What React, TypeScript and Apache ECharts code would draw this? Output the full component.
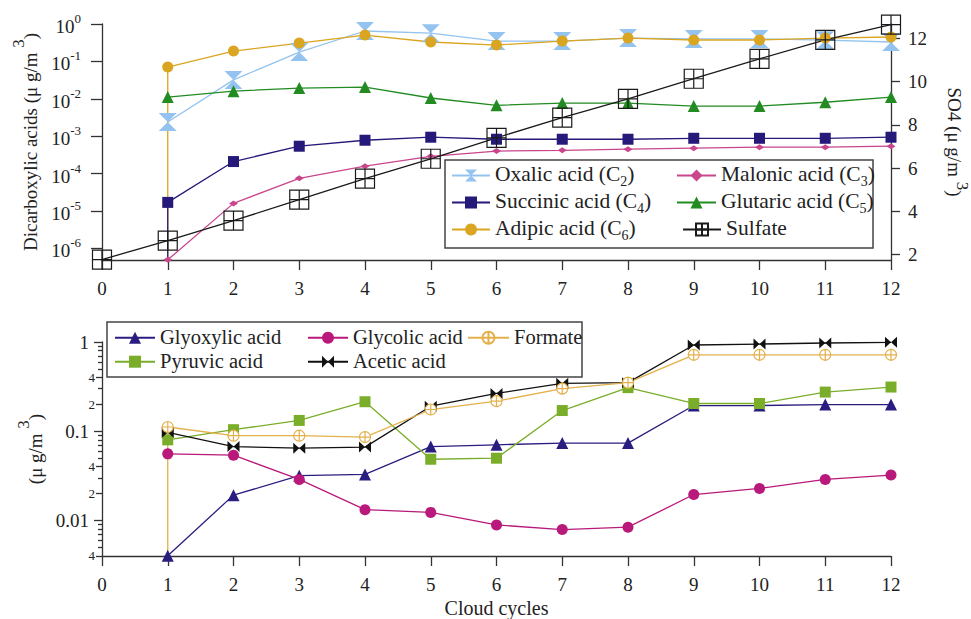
import { useEffect, useRef } from 'react';
import * as echarts from 'echarts';

// ---------- data ----------
const cycles = [0, 1, 2, 3, 4, 5, 6, 7, 8, 9, 10, 11, 12];

// upper panel: dicarboxylic acids (µg/m3), log axis
const oxalic = [null, 2.4e-3, 0.032, 0.178, 0.65, 0.57, 0.35, 0.35, 0.42, 0.4, 0.4, 0.37, 0.33];
const malonic = [null, 4.95e-7, 1.6e-5, 7.5e-5, 1.58e-4, 2.9e-4, 4.0e-4, 4.2e-4, 4.5e-4, 4.8e-4, 5.1e-4, 5.1e-4, 5.4e-4];
const succinic = [null, 1.7e-5, 2.1e-4, 5.4e-4, 7.8e-4, 9.4e-4, 8.3e-4, 8.3e-4, 8.3e-4, 8.8e-4, 8.8e-4, 8.8e-4, 9.4e-4];
const glutaric = [null, 0.0111, 0.016, 0.0193, 0.0206, 0.0105, 0.0067, 0.0077, 0.0077, 0.0064, 0.0064, 0.0081, 0.0111];
const adipic = [null, 0.0705, 0.189, 0.31, 0.507, 0.33, 0.274, 0.35, 0.42, 0.373, 0.373, 0.42, 0.449];
// sulfate (µg/m3), right linear axis
const sulfate = [1.77, 2.65, 3.57, 4.54, 5.51, 6.43, 7.4, 8.33, 9.2, 10.13, 11.05, 11.93, 12.63];

// lower panel (µg/m3), log axis
const glyoxylic = [null, 0.00401, 0.0192, 0.0317, 0.0328, 0.0673, 0.0704, 0.0736, 0.0736, 0.194, 0.194, 0.199, 0.199];
const glycolic = [null, 0.0557, 0.0538, 0.0288, 0.0132, 0.0123, 0.0089, 0.0079, 0.0084, 0.0195, 0.0228, 0.0288, 0.0322];
const formate = [null, 0.1115, 0.089, 0.089, 0.086, 0.175, 0.217, 0.3, 0.35, 0.719, 0.719, 0.719, 0.719];
const pyruvic = [null, 0.08, 0.104, 0.132, 0.214, 0.0485, 0.0498, 0.1705, 0.308, 0.2045, 0.2045, 0.2745, 0.3126];
const acetic = [null, 0.0969, 0.0673, 0.0646, 0.0663, 0.1906, 0.2653, 0.344, 0.35, 0.925, 0.949, 0.974, 0.992];

// tick values
const dicarbTicks = [1e-6, 1e-5, 1e-4, 1e-3, 1e-2, 1e-1, 1];
const so4Ticks = [2, 4, 6, 8, 10, 12];
const lowerMajorTicks = [0.01, 0.1, 1];
const lowerLabeledMinorTicks = [0.004, 0.02, 0.04, 0.2, 0.4];
const lowerMinorTicks = [0.005, 0.006, 0.007, 0.008, 0.009, 0.03, 0.05, 0.06, 0.07, 0.08, 0.09, 0.3, 0.5, 0.6, 0.7, 0.8, 0.9];

// value used to draw the drop of a curve to the bottom of a log axis at its first cycle
const OFF_SCALE = 1e-12;

// ---------- styling ----------
const FONT = 'Liberation Serif';
const INK = '#222';
const AXIS = '#333';

const HOURGLASS = 'path://M0,0L12,0L6,7ZM0,14L12,14L6,7Z';
const BOX_PLUS = 'path://M0,0H10V10H0ZM5,0V10M0,5H10';
const BOWTIE = 'path://M0,0L6,5L0,10ZM12,0L6,5L12,10Z';
const CIRCLE_PLUS = 'path://M5,0A5,5,0,1,1,5,10A5,5,0,1,1,5,0ZM5,0V10M0,5H10';

function points(values: (number | null)[], dropFirst = false) {
  const pts: any[] = [];
  values.forEach((v, i) => {
    if (v == null) return;
    if (dropFirst && pts.length === 0) pts.push({ value: [cycles[i], OFF_SCALE], symbol: 'none' });
    pts.push([cycles[i], v]);
  });
  return pts;
}

const lineStyle = { color: AXIS, width: 1.3 };

function xAxis(grid: number, extra: any = {}) {
  return {
    type: 'value',
    gridIndex: grid,
    min: 0,
    max: 12,
    interval: 1,
    axisLine: { onZero: false, lineStyle },
    axisTick: { length: 10, lineStyle },
    axisLabel: { fontFamily: FONT, fontSize: 19, color: INK, margin: 19 },
    splitLine: { show: false },
    ...extra,
  };
}

function nameRich(lh: number) {
  return {
    b: { fontFamily: FONT, fontSize: 19, color: INK, lineHeight: lh, verticalAlign: 'bottom' },
    p: { fontFamily: FONT, fontSize: 17, color: INK, lineHeight: lh, verticalAlign: 'top' },
  };
}

function legendRich(size: number, lh: number) {
  return {
    t: { fontFamily: FONT, fontSize: size, color: INK, lineHeight: lh, verticalAlign: 'top' },
    s: { fontFamily: FONT, fontSize: 14, color: INK, lineHeight: lh, verticalAlign: 'bottom' },
  };
}

const fmtSub = (name: string) => {
  const m = name.match(/^(.*\(C)(\d)(\))$/);
  return m ? `{t|${m[1]}}{s|${m[2]}}{t|${m[3]}}` : `{t|${name}}`;
};

function series(name: string, data: any[], color: string, symbol: string, symbolSize: any, xi: number, yi: number, item: any = {}) {
  return {
    type: 'line',
    name,
    data,
    xAxisIndex: xi,
    yAxisIndex: yi,
    symbol,
    symbolSize,
    symbolKeepAspect: false,
    clip: true,
    lineStyle: { color, width: 1.3 },
    itemStyle: { color, ...item },
    emphasis: { disabled: true },
  };
}

function legend(data: string[], left: number, top: number, itemWidth: number, itemGap: number, size: number, lh: number) {
  return {
    data,
    orient: 'vertical',
    left,
    top,
    itemWidth,
    itemHeight: 15,
    itemGap,
    padding: 0,
    selectedMode: false,
    formatter: fmtSub,
    textStyle: { fontFamily: FONT, fontSize: size, color: INK, rich: legendRich(size, lh) },
  };
}

export default function App() {
  const ref = useRef<HTMLDivElement>(null);

  useEffect(() => {
    if (!ref.current) return;
    const chart = echarts.init(ref.current, undefined, { renderer: 'svg' });

    const option: any = {
      animation: false,
      backgroundColor: '#fff',
      textStyle: { fontFamily: FONT },
      grid: [
        { left: 102, right: 80, top: 24, height: 236, outerBoundsMode: 'none', containLabel: false },
        { left: 102, right: 80, top: 342, height: 214, outerBoundsMode: 'none', containLabel: false },
      ],
      xAxis: [
        xAxis(0),
        xAxis(1, {
          name: 'Cloud cycles',
          nameLocation: 'middle',
          nameGap: 42,
          nameTextStyle: { fontFamily: FONT, fontSize: 20, color: INK },
        }),
      ],
      yAxis: [
        {
          type: 'log',
          logBase: 10,
          gridIndex: 0,
          position: 'left',
          min: 4.9e-7,
          max: 1,
          axisLine: { show: true, onZero: false, lineStyle },
          axisTick: { show: true, length: 11, customValues: dicarbTicks, lineStyle },
          axisLabel: {
            customValues: dicarbTicks,
            margin: 21,
            fontFamily: FONT,
            formatter: (v: number) => `{b|10}{e|${Math.round(Math.log10(v))}}`,
            rich: {
              b: { fontFamily: FONT, fontSize: 19, color: INK, lineHeight: 24, verticalAlign: 'bottom' },
              e: { fontFamily: FONT, fontSize: 13, color: INK, lineHeight: 24, verticalAlign: 'top' },
            },
          },
          splitLine: { show: false },
          name: '{b|Dicarboxylic acids (μ g/m }{p|3}{b|)}',
          nameLocation: 'middle',
          nameGap: 47,
          nameTextStyle: { fontFamily: FONT, rich: nameRich(30) },
        },
        {
          type: 'value',
          gridIndex: 0,
          position: 'right',
          min: 1.75,
          max: 12.66,
          axisLine: { show: true, onZero: false, lineStyle },
          axisTick: { show: true, length: 9, customValues: so4Ticks, lineStyle },
          axisLabel: { customValues: so4Ticks, margin: 17, fontFamily: FONT, fontSize: 19, color: INK },
          splitLine: { show: false },
          name: '{b|SO4 (μ g/m }{p|3}{b|)}',
          nameLocation: 'middle',
          nameRotate: -90,
          nameGap: 54,
          nameTextStyle: { fontFamily: FONT, rich: nameRich(26) },
        },
        {
          type: 'log',
          logBase: 10,
          gridIndex: 1,
          position: 'left',
          min: 0.00399,
          max: 1,
          axisLine: { show: true, onZero: false, lineStyle },
          axisTick: { show: true, length: 8, customValues: lowerMajorTicks, lineStyle },
          axisLabel: {
            customValues: lowerMajorTicks,
            margin: 13,
            fontFamily: FONT,
            fontSize: 19,
            color: INK,
            formatter: (v: number) => String(v),
          },
          splitLine: { show: false },
          name: '{b|(μ g/m }{p|3}{b|)}',
          nameLocation: 'middle',
          nameGap: 56,
          nameTextStyle: { fontFamily: FONT, rich: nameRich(30) },
        },
        {
          type: 'log',
          logBase: 10,
          gridIndex: 1,
          position: 'left',
          min: 0.00399,
          max: 1,
          axisLine: { show: false },
          axisTick: { show: true, length: 6, customValues: lowerLabeledMinorTicks, lineStyle },
          axisLabel: {
            customValues: lowerLabeledMinorTicks,
            margin: 7,
            fontFamily: FONT,
            fontSize: 13,
            color: INK,
            formatter: (v: number) => String(Math.round(v / Math.pow(10, Math.floor(Math.log10(v) + 1e-9)))),
          },
          splitLine: { show: false },
        },
        {
          type: 'log',
          logBase: 10,
          gridIndex: 1,
          position: 'left',
          min: 0.00399,
          max: 1,
          axisLine: { show: false },
          axisTick: { show: true, length: 4, customValues: lowerMinorTicks, lineStyle },
          axisLabel: { show: false },
          splitLine: { show: false },
        },
      ],
      legend: [
        legend(['Oxalic acid (C2)', 'Succinic acid (C4)', 'Adipic acid (C6)'], 451, 162.5, 38, 1, 21.5, 26),
        legend(['Malonic acid (C3)', 'Glutaric acid (C5)'], 676, 162.5, 39, 1, 21.5, 26),
        legend(['Sulfate'], 682, 216.5, 38, 1, 21.5, 26),
        legend(['Glyoxylic acid', 'Pyruvic acid'], 114, 326.7, 40, 3, 20.5, 22),
        legend(['Glycolic acid', 'Acetic acid'], 307, 326.7, 40, 3, 20.5, 22),
        legend(['Formate'], 467, 326.7, 41, 3, 20.5, 22),
      ],
      graphic: [
        {
          type: 'rect',
          z: 3,
          shape: { x: 445, y: 160, width: 428, height: 88 },
          style: { fill: '#fff', stroke: '#444', lineWidth: 1.5 },
        },
        {
          type: 'rect',
          z: 3,
          shape: { x: 107, y: 322, width: 475, height: 55 },
          style: { fill: '#fff', stroke: '#444', lineWidth: 1.5 },
        },
      ],
      series: [
        series('Oxalic acid (C2)', points(oxalic), '#93c3ee', HOURGLASS, [18, 18], 0, 0),
        series('Malonic acid (C3)', points(malonic), '#c9468d', 'diamond', [9, 6], 0, 0),
        series('Adipic acid (C6)', points(adipic, true), '#daa520', 'circle', 11, 0, 0),
        series('Succinic acid (C4)', points(succinic, true), '#25197a', 'rect', 11, 0, 0),
        series('Glutaric acid (C5)', points(glutaric), '#228b22', 'triangle', 12, 0, 0),
        series('Sulfate', points(sulfate), '#1a1a1a', BOX_PLUS, 19, 0, 1, {
          color: 'rgba(255,255,255,0)',
          borderColor: '#1a1a1a',
          borderWidth: 1.2,
        }),
        series('Glyoxylic acid', points(glyoxylic), '#2a1d80', 'triangle', 12, 1, 2),
        series('Pyruvic acid', points(pyruvic), '#7aae2a', 'rect', 11, 1, 2),
        series('Glycolic acid', points(glycolic), '#b8197a', 'circle', 11, 1, 2),
        series('Acetic acid', points(acetic), '#111111', BOWTIE, [12, 11], 1, 2),
        series('Formate', points(formate, true), '#e3b04b', CIRCLE_PLUS, 11, 1, 2, {
          color: '#ffffff',
          borderColor: '#e3b04b',
          borderWidth: 1.2,
        }),
      ],
    };

    chart.setOption(option);
    return () => chart.dispose();
  }, []);

  return <div ref={ref} style={{ position: 'fixed', left: 0, top: 0, width: 971, height: 619 }} />;
}
